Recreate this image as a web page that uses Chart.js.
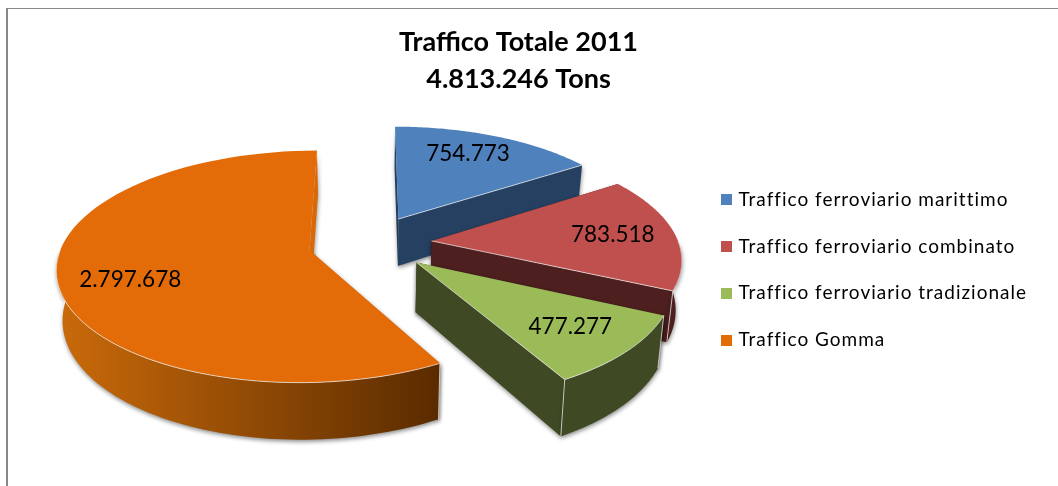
<!DOCTYPE html>
<html>
<head>
<meta charset="utf-8">
<title>Traffico Totale 2011</title>
<style>
  html, body { margin: 0; padding: 0; background: #fff; }
  canvas { display: block; }
</style>
<script src="https://cdn.jsdelivr.net/npm/chart.js@4/dist/chart.umd.min.js"></script>
</head>
<body>
<canvas id="chart" width="1058" height="486"></canvas>
<script>
const categories = [
  'Traffico ferroviario marittimo',
  'Traffico ferroviario combinato',
  'Traffico ferroviario tradizionale',
  'Traffico Gomma'
];
const tons = [754773, 783518, 477277, 2797678];
const titleLines = ['Traffico Totale 2011', '4.813.246 Tons'];
const topColors = ['#4f81bd', '#c0504d', '#9bbb59', '#e36c09'];
const wallColors = ['#254061', '#4d1f1e', '#3f4a24', null];
const labelRadius = [0.75, 0.745, 0.75, 0.73];
const labelTurn = [-0.04, 0, 0, -0.1];

// Perspective set-up for the tilted, exploded pie.
const view = {
  cx: 370, cy: 243,      // screen position of the unexploded pie centre
  radius: 247,           // radius in world pixels
  explode: 62,           // how far each slice is pulled out
  tilt: 0.452,           // vertical squash of the ground plane
  persp: 0.00057,        // foreshortening with depth
  depth: 48.5,           // wall height
  lean: 0.02             // walls narrow slightly towards the base
};

function project(wx, wy, z) {
  const w = 1 + view.persp * wy;
  const sx = view.cx + wx / w;
  const sy = view.cy - view.tilt * wy / w;
  return {
    x: view.cx + (sx - view.cx) * (1 - view.lean * z),
    y: sy + z * view.depth / w
  };
}

function slicePoint(arc, angle, ratio, z) {
  const mid = (arc.startAngle + arc.endAngle) / 2;
  const ox = Math.cos(mid) * view.explode;
  const oy = -Math.sin(mid) * view.explode;
  const r = ratio * view.radius;
  return project(ox + Math.cos(angle) * r, oy - Math.sin(angle) * r, z);
}

function trace(ctx, pts) {
  ctx.beginPath();
  pts.forEach((p, i) => i ? ctx.lineTo(p.x, p.y) : ctx.moveTo(p.x, p.y));
  ctx.closePath();
}

function arcPoints(arc, from, to, z) {
  const steps = 72;
  const pts = [];
  for (let i = 0; i <= steps; i++) {
    pts.push(slicePoint(arc, from + (to - from) * i / steps, 1, z));
  }
  return pts;
}

// Chart.js puts text half a font size after the legend box; this marker is
// centred in a narrower slot so the text sits closer to it.
function legendMarker(color) {
  const c = document.createElement('canvas');
  c.width = 11;
  c.height = 11;
  const g = c.getContext('2d');
  g.fillStyle = color;
  g.fillRect(0, 0, 11, 11);
  return c;
}

const formatTons = v => String(v).replace(/\B(?=(\d{3})+$)/g, '.');

const LEGEND_TRACKING = '1px';

function withTracking(legend, method) {
  const original = legend[method];
  legend[method] = function () {
    const ctx = this.ctx;
    ctx.save();
    ctx.letterSpacing = LEGEND_TRACKING;
    const out = original.apply(this, arguments);
    ctx.restore();
    return out;
  };
}

const pie3d = {
  id: 'pie3d',
  beforeLayout(chart) {
    if (chart.legend && !chart.legend.tracked) {
      chart.legend.tracked = true;
      withTracking(chart.legend, 'fit');
      withTracking(chart.legend, 'draw');
    }
  },
  beforeDraw(chart) {
    const ctx = chart.ctx;
    ctx.save();
    ctx.fillStyle = '#fff';
    ctx.fillRect(0, 0, chart.width, chart.height);
    ctx.fillStyle = '#888';
    ctx.fillRect(6, 8, chart.width - 6, 1);
    ctx.fillRect(6, 8, 2, chart.height - 8);
    ctx.restore();
  },
  beforeDatasetsDraw(chart) {
    const ctx = chart.ctx;
    const arcs = chart.getDatasetMeta(0).data;
    // Back to front, so nearer slices overlap the walls behind them.
    [0, 3, 1, 2].forEach(i => {
      const arc = arcs[i];
      const a0 = arc.startAngle, a1 = arc.endAngle;
      const apexTop = slicePoint(arc, a0, 0, 0);
      const apexBase = slicePoint(arc, a0, 0, 1);
      let wall = wallColors[i];
      if (!wall) {
        wall = ctx.createLinearGradient(60, 0, 440, 0);
        wall.addColorStop(0, '#c96a0a');
        wall.addColorStop(1, '#5a2b00');
      }
      ctx.save();
      ctx.shadowColor = 'rgba(0,0,0,0.45)';
      ctx.shadowBlur = 4;
      ctx.shadowOffsetX = 0.5;
      ctx.shadowOffsetY = 2;
      // Radial walls along both straight edges
      ctx.fillStyle = i === 3 ? '#d96808' : wall;
      [a0, a1].forEach(a => {
        trace(ctx, [apexTop, slicePoint(arc, a, 1, 0), slicePoint(arc, a, 1, 1), apexBase]);
        ctx.fill();
      });
      // Curved wall: only the stretch facing the viewer
      const from = Math.max(a0, 0), to = Math.min(a1, Math.PI);
      if (to > from) {
        ctx.fillStyle = wall;
        trace(ctx, arcPoints(arc, from, to, 0).concat(arcPoints(arc, to, from, 1)));
        ctx.fill();
      }
      ctx.restore();

      // Light seams on the vertical corners that face the viewer
      ctx.save();
      ctx.strokeStyle = 'rgba(235,235,235,0.75)';
      ctx.lineWidth = 1;
      [a0, a1].forEach(a => {
        const t = slicePoint(arc, a, 1, 0), b = slicePoint(arc, a, 1, 1);
        if (Math.sin(a) > -0.2) {
          ctx.beginPath();
          ctx.moveTo(t.x, t.y);
          ctx.lineTo(b.x, b.y);
          ctx.stroke();
        }
      });
      ctx.restore();

      // Top face
      ctx.save();
      ctx.fillStyle = topColors[i];
      trace(ctx, [apexTop].concat(arcPoints(arc, a0, a1, 0)));
      ctx.fill();
      // Light rim only where the top meets a wall
      ctx.strokeStyle = 'rgba(240,240,240,0.7)';
      ctx.lineWidth = 1;
      if (to > from) {
        ctx.beginPath();
        arcPoints(arc, from, to, 0).forEach((p, k) => k ? ctx.lineTo(p.x, p.y) : ctx.moveTo(p.x, p.y));
        ctx.stroke();
      }
      if (i !== 3) {
        const edge = slicePoint(arc, a1, 1, 0);
        ctx.beginPath();
        ctx.moveTo(apexTop.x, apexTop.y);
        ctx.lineTo(edge.x, edge.y);
        ctx.stroke();
      }
      ctx.restore();
    });

    // Value labels on the top faces
    ctx.save();
    ctx.font = '22.5px Lato';
    ctx.fillStyle = '#000';
    ctx.textAlign = 'center';
    ctx.textBaseline = 'middle';
    arcs.forEach((arc, i) => {
      const mid = (arc.startAngle + arc.endAngle) / 2 + labelTurn[i];
      const p = slicePoint(arc, mid, labelRadius[i], 0);
      ctx.fillText(formatTons(tons[i]), p.x, p.y);
    });
    ctx.restore();
    return false;
  }
};

new Chart(document.getElementById('chart'), {
  type: 'pie',
  data: {
    labels: categories,
    datasets: [{ data: tons, backgroundColor: topColors, borderWidth: 0 }]
  },
  options: {
    responsive: false,
    animation: false,
    layout: { padding: { left: 0, right: 21, top: 23.5, bottom: -30.5 } },
    plugins: {
      tooltip: { enabled: false },
      title: {
        display: true,
        text: titleLines,
        color: '#000',
        font: { family: 'Lato', size: 27, weight: 'bold', lineHeight: 1.37 },
        padding: { top: 0, bottom: 0 }
      },
      legend: {
        position: 'right',
        labels: {
          color: '#000',
          font: { family: 'Lato', size: 19 },
          usePointStyle: true,
          boxHeight: 11,
          pointStyleWidth: 5,
          padding: 27.7,
          generateLabels(chart) {
            return categories.map((text, i) => ({
              text,
              index: i,
              fontColor: '#000',
              pointStyle: legendMarker(topColors[i])
            }));
          }
        }
      }
    }
  },
  plugins: [pie3d]
});
</script>
</body>
</html>
